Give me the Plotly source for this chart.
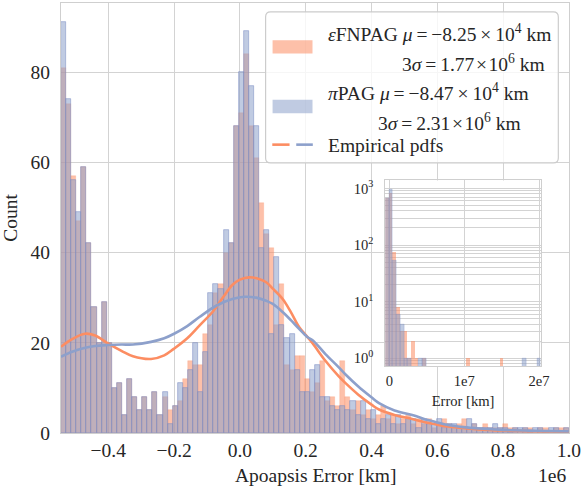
import numpy as np
import plotly.graph_objects as go

# ---------------- data ----------------
# main histogram: 100 equal bins between bin_lo and bin_hi (units of 1e6 km)
bin_lo = -0.5438
bin_hi = 1.0
n_bins = 100

eps_counts = [81, 73, 57, 47, 59, 42, 28, 20, 29, 20,
              10, 11, 4, 12, 8, 5, 8, 5, 9, 4,
              8, 5, 6, 7, 12, 16, 15, 15, 22, 24,
              31, 33, 40, 42, 68, 71, 84, 68, 61, 51,
              44, 41, 24, 33, 15, 14, 17, 17, 12, 9,
              11, 16, 7, 8, 6, 16, 8, 5, 7, 4,
              5, 3, 4, 6, 3, 4, 2, 3, 4, 2,
              3, 2, 3, 1, 2, 3, 2, 1, 2, 3,
              1, 2, 1, 2, 1, 1, 1, 2, 1, 1,
              0, 1, 1, 0, 1, 1, 0, 1, 1, 1]

pi_counts = [91, 74, 56, 49, 59, 42, 28, 20, 29, 20,
             10, 11, 4, 12, 8, 5, 8, 5, 9, 4,
             9, 2, 6, 11, 10, 14, 20, 9, 18, 31,
             33, 32, 45, 42, 68, 80, 89, 77, 68, 41,
             45, 22, 39, 24, 21, 22, 14, 9, 9, 14,
             15, 8, 8, 6, 5, 6, 5, 7, 4, 7,
             3, 5, 2, 3, 4, 2, 4, 2, 3, 3,
             1, 3, 2, 2, 3, 1, 2, 2, 1, 1,
             3, 2, 1, 1, 1, 2, 1, 1, 0, 1,
             1, 1, 0, 1, 1, 0, 1, 1, 0, 1]

# empirical pdf curves (scaled to counts)
kde_x_eps = [-0.5438, -0.51, -0.471, -0.44, -0.40, -0.36, -0.325, -0.27, -0.23, -0.20,
             -0.16, -0.123, -0.08, -0.05, -0.023, 0.0, 0.029, 0.06, 0.08, 0.10,
             0.13, 0.155, 0.18, 0.205, 0.222, 0.26, 0.30, 0.322, 0.36, 0.40,
             0.423, 0.47, 0.524, 0.575, 0.625, 0.68, 0.727, 0.80, 0.90, 1.0]
kde_y_eps = [19.1, 20.8, 22.0, 21.6, 19.8, 18.2, 17.0, 16.4, 17.2, 18.7,
             21.0, 23.8, 27.1, 30.2, 32.8, 34.0, 34.5, 34.1, 33.4, 32.0,
             29.7, 26.8, 23.5, 21.3, 19.8, 16.0, 12.6, 11.0, 8.5, 6.3,
             5.2, 4.0, 3.1, 2.2, 1.5, 1.1, 0.8, 0.55, 0.4, 0.3]

kde_x_pi = [-0.5438, -0.51, -0.47, -0.44, -0.40, -0.36, -0.325, -0.27, -0.23, -0.20,
            -0.16, -0.123, -0.072, -0.023, 0.014, 0.05, 0.08, 0.10, 0.13, 0.155,
            0.18, 0.205, 0.222, 0.26, 0.30, 0.322, 0.36, 0.40, 0.423, 0.47,
            0.524, 0.575, 0.625, 0.68, 0.727, 0.80, 0.90, 1.0]
kde_y_pi = [16.9, 18.0, 18.9, 19.3, 19.5, 19.6, 19.6, 20.2, 21.0, 22.0,
            23.7, 25.7, 28.2, 29.7, 30.2, 30.0, 29.3, 28.6, 26.8, 25.0,
            23.1, 21.3, 20.5, 17.5, 14.6, 12.9, 10.3, 7.9, 6.6, 5.0,
            4.0, 2.8, 1.9, 1.3, 1.0, 0.7, 0.5, 0.35]

# inset histogram (full error range, km, log counts): 42 equal bins
inset_lo = -5.438e5
inset_hi = 2.0227e7
inset_nbins = 42
inset_eps = [660, 800, 75, 8, 3, 3, 1, 2, 1, 0,
             1, 0, 0, 0, 0, 0, 0, 0, 0, 0,
             0, 0, 1, 0, 0, 0, 0, 0, 0, 0,
             0, 1, 0, 0, 0, 0, 0, 0, 0, 0,
             0, 0]
inset_pi = [660, 960, 54, 6, 4, 1, 1, 0, 0, 1,
            1, 0, 0, 0, 0, 0, 0, 0, 0, 0,
            0, 0, 0, 0, 0, 0, 0, 0, 0, 0,
            0, 0, 0, 0, 0, 0, 0, 1, 0, 0,
            0, 1]

x_ticks = [-0.4, -0.2, 0.0, 0.2, 0.4, 0.6, 0.8, 1.0]
x_ticktext = ["\u22120.4", "\u22120.2", "0.0", "0.2", "0.4", "0.6", "0.8", "1.0"]
y_ticks = [0, 20, 40, 60, 80]
inset_xticks = [0, 1e7, 2e7]
inset_xtext = ["0", "1e7", "2e7"]
inset_yticks = [1, 10, 100, 1000]
inset_ytext = ["10<sup>0</sup>", "10<sup>1</sup>", "10<sup>2</sup>", "10<sup>3</sup>"]

label_eps = ["<i>ε</i>FNPAG <i>μ</i>\u2009=\u2009−8.25\u2009×\u200910<sup>4</sup> km",
             "3<i>σ</i>\u2009=\u20091.77\u200a×\u200a10<sup>6</sup> km"]
label_pi = ["<i>π</i>PAG <i>μ</i>\u2009=\u2009−8.47\u2009×\u200910<sup>4</sup> km",
            "3<i>σ</i>\u2009=\u20092.31\u200a×\u200a10<sup>6</sup> km"]
label_kde = "Empirical pdfs"
x_title = "Apoapsis Error [km]"
y_title = "Count"
x_offset_text = "1e6"
inset_xtitle = "Error [km]"

# ---------------- style ----------------
ORANGE = "#fc8d62"
BLUE = "#8da0cb"
ALPHA = 0.55
ORANGE_FILL = "rgba(252,141,98,%.2f)" % ALPHA
BLUE_FILL = "rgba(141,160,203,%.2f)" % ALPHA
GRID = "#d3d3d3"
TEXT = "#262626"
FONT = "Liberation Serif, Times New Roman, serif"
FS = 19.5
FS_IN = 14.6

W, H = 582, 495
ML, MR, MT, MB = 61, 12, 1, 62
PW = W - ML - MR
PH = H - MT - MB


def px_x(px):
    return (px - ML) / PW


def px_y(py):
    return (H - MB - py) / PH


edges = np.linspace(bin_lo, bin_hi, n_bins + 1)
centers = 0.5 * (edges[:-1] + edges[1:])
bw = edges[1] - edges[0]

in_edges = np.linspace(inset_lo, inset_hi, inset_nbins + 1)
in_centers = 0.5 * (in_edges[:-1] + in_edges[1:])
in_bw = in_edges[1] - in_edges[0]

fig = go.Figure()

fig.add_trace(go.Bar(x=centers, y=eps_counts, width=bw, marker=dict(
    color=ORANGE_FILL, line=dict(color="rgba(252,141,98,0.35)", width=0.6)),
    showlegend=False, hoverinfo="skip"))
fig.add_trace(go.Bar(x=centers, y=pi_counts, width=bw, marker=dict(
    color=BLUE_FILL, line=dict(color="rgba(120,140,195,0.75)", width=0.7)),
    showlegend=False, hoverinfo="skip"))
fig.add_trace(go.Scatter(x=kde_x_eps, y=kde_y_eps, mode="lines", line=dict(
    color=ORANGE, width=2.6, shape="spline", smoothing=1.0), showlegend=False, hoverinfo="skip"))
fig.add_trace(go.Scatter(x=kde_x_pi, y=kde_y_pi, mode="lines", line=dict(
    color=BLUE, width=2.6, shape="spline", smoothing=1.0), showlegend=False, hoverinfo="skip"))

ie = [v if v > 0 else None for v in inset_eps]
ip = [v if v > 0 else None for v in inset_pi]
fig.add_trace(go.Bar(x=in_centers, y=ie, width=in_bw, xaxis="x2", yaxis="y2", marker=dict(
    color=ORANGE_FILL, line=dict(width=0)), showlegend=False, hoverinfo="skip"))
fig.add_trace(go.Bar(x=in_centers, y=ip, width=in_bw, xaxis="x2", yaxis="y2", marker=dict(
    color=BLUE_FILL, line=dict(color="rgba(120,140,195,0.6)", width=0.5)), showlegend=False, hoverinfo="skip"))

axis_common = dict(showgrid=True, gridcolor=GRID, gridwidth=1, zeroline=False,
                   showline=True, mirror=True, linecolor="#cfcfcf", linewidth=1.2,
                   ticks="")

fig.update_layout(
    width=W, height=H,
    margin=dict(l=ML, r=MR, t=MT, b=MB),
    paper_bgcolor="white", plot_bgcolor="white",
    barmode="overlay", bargap=0,
    font=dict(family=FONT, size=FS, color=TEXT),
    showlegend=False,
    xaxis=dict(range=[bin_lo, bin_hi + 0.0005], tickvals=x_ticks, ticktext=x_ticktext,
               tickfont=dict(size=FS), ticklabelstandoff=-1, ticklabeloverflow="allow",
               **axis_common),
    yaxis=dict(range=[0, 95.3], tickvals=y_ticks, tickfont=dict(size=FS), ticklabelstandoff=6,
               title=dict(text=y_title, font=dict(size=FS), standoff=10),
               **axis_common),
    xaxis2=dict(domain=[px_x(386), px_x(541.7)], anchor="y2",
                range=[inset_lo, inset_hi], tickvals=inset_xticks, ticktext=inset_xtext,
                tickfont=dict(size=FS_IN), ticklabelstandoff=1, ticklabeloverflow="allow",
                title=dict(text=inset_xtitle, font=dict(size=FS_IN), standoff=8),
                **axis_common),
    yaxis2=dict(domain=[px_y(365.7), px_y(179.3)], anchor="x2", type="log",
                range=[np.log10(0.73), np.log10(1380)],
                tickvals=inset_yticks, ticktext=inset_ytext,
                tickfont=dict(size=FS_IN), ticklabelstandoff=8,
                minor=dict(showgrid=True, gridcolor=GRID, gridwidth=1, dtick="D1"),
                **axis_common),
)

# main x-axis title and offset text
fig.add_annotation(text=x_title, xref="paper", yref="paper", x=px_x(315.5), y=px_y(476),
                   xanchor="center", yanchor="middle", showarrow=False,
                   font=dict(size=FS, color=TEXT))
fig.add_annotation(text=x_offset_text, xref="paper", yref="paper", x=px_x(569), y=px_y(476),
                   xanchor="right", yanchor="middle", showarrow=False,
                   font=dict(size=FS, color=TEXT))

# ---------------- legend (drawn by hand) ----------------
def rounded_rect(x0, y0, x1, y1, r):
    rx = r / PW
    ry = r / PH
    X0, X1 = px_x(x0), px_x(x1)
    Y0, Y1 = px_y(y1), px_y(y0)  # bottom, top in paper units
    return (f"M {X0+rx},{Y0} L {X1-rx},{Y0} Q {X1},{Y0} {X1},{Y0+ry} "
            f"L {X1},{Y1-ry} Q {X1},{Y1} {X1-rx},{Y1} "
            f"L {X0+rx},{Y1} Q {X0},{Y1} {X0},{Y1-ry} "
            f"L {X0},{Y0+ry} Q {X0},{Y0} {X0+rx},{Y0} Z")


fig.add_shape(type="path", path=rounded_rect(266, 10, 559.3, 161.7, 5), xref="paper", yref="paper",
              fillcolor="rgba(255,255,255,0.8)", line=dict(color="#cccccc", width=1.2), layer="above")
fig.add_shape(type="rect", xref="paper", yref="paper", x0=px_x(273), x1=px_x(313),
              y0=px_y(51.7), y1=px_y(38.3), fillcolor=ORANGE_FILL, line=dict(width=0), layer="above")
fig.add_shape(type="rect", xref="paper", yref="paper", x0=px_x(273), x1=px_x(313),
              y0=px_y(111.7), y1=px_y(98.3), fillcolor=BLUE_FILL, line=dict(width=0), layer="above")
fig.add_shape(type="line", xref="paper", yref="paper", x0=px_x(272.7), x1=px_x(290),
              y0=px_y(143.3), y1=px_y(143.3), line=dict(color=ORANGE, width=2.6), layer="above")
fig.add_shape(type="line", xref="paper", yref="paper", x0=px_x(296.7), x1=px_x(313.3),
              y0=px_y(143.3), y1=px_y(143.3), line=dict(color=BLUE, width=2.6), layer="above")

legend_lines = [
    (label_eps[0], 327, 31.4),
    (label_eps[1], 401, 60.8),
    (label_pi[0], 327, 90.8),
    (label_pi[1], 376.5, 120.8),
    (label_kde, 327, 144.2),
]
for txt, lx, ly in legend_lines:
    fig.add_annotation(text=txt, xref="paper", yref="paper", x=px_x(lx), y=px_y(ly),
                       xanchor="left", yanchor="middle", showarrow=False,
                       font=dict(size=FS, color=TEXT))

fig.write_html("out.html")
